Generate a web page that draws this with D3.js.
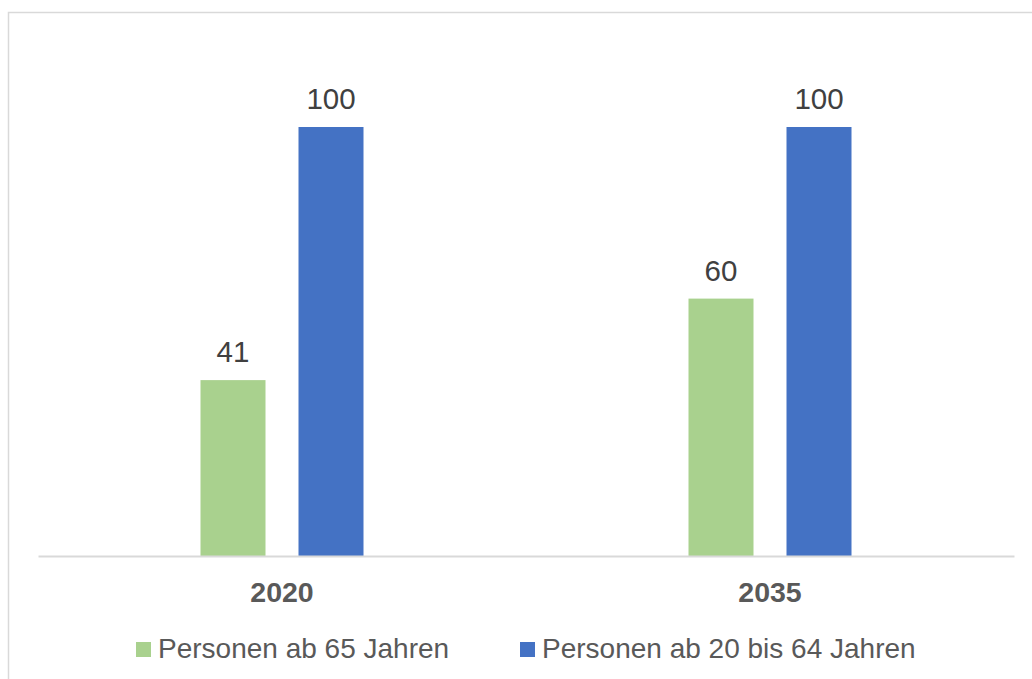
<!DOCTYPE html>
<html lang="de">
<head>
  <meta charset="UTF-8">
  <title>Personen ab 65 Jahren je 100 Personen ab 20 bis 64 Jahren</title>
  <style>
body {
  margin: 0;
  background: #fff;
  font-family: 'Liberation Sans', Arial, sans-serif;
}
svg text {
  font-family: 'Liberation Sans', Arial, sans-serif;
}
  </style>
</head>
<body>
<svg id="chart" width="1032" height="679"></svg>
<script src="https://cdn.jsdelivr.net/npm/d3@7"></script>
<script>
/* global d3 */

// data
var years = ["2020", "2035"];
var series = ["Personen ab 65 Jahren", "Personen ab 20 bis 64 Jahren"];
var ab65 = [41, 60];
var ab20bis64 = [100, 100];
var colors = ["#A9D18E", "#4472C4"];

var svg = d3.select("#chart");

// outer frame (right and bottom run off the picture)
svg.append("rect")
  .attr("x", 8.5).attr("y", 12.5)
  .attr("width", 1040).attr("height", 700)
  .attr("fill", "none")
  .attr("stroke", "#d9d9d9")
  .attr("stroke-width", 1.5);

var x0 = d3.scaleBand().domain(years).range([38, 1014]);
var x1 = d3.scaleBand().domain(series).range([-81.5, 81.5]).paddingInner(33 / 98);
var y = d3.scaleLinear().domain([0, 100]).range([556, 127]);
var color = d3.scaleOrdinal().domain(series).range(colors);

var rows = years.map(function (yr, i) {
  return { year: yr, values: [
    { key: series[0], value: ab65[i] },
    { key: series[1], value: ab20bis64[i] }
  ]};
});

var groups = svg.append("g").selectAll("g")
  .data(rows)
  .enter().append("g")
  .attr("transform", function (d) {
    return "translate(" + (x0(d.year) + x0.bandwidth() / 2) + ",0)";
  });

groups.selectAll("rect")
  .data(function (d) { return d.values; })
  .enter().append("rect")
  .attr("x", function (d) { return x1(d.key); })
  .attr("width", x1.bandwidth())
  .attr("y", function (d) { return y(d.value); })
  .attr("height", function (d) { return y(0) - y(d.value); })
  .attr("fill", function (d) { return color(d.key); });

groups.selectAll("text.val")
  .data(function (d) { return d.values; })
  .enter().append("text")
  .attr("class", "val")
  .attr("x", function (d) { return x1(d.key) + x1.bandwidth() / 2; })
  .attr("y", function (d) { return y(d.value) - 18; })
  .attr("text-anchor", "middle")
  .attr("font-size", 29.5)
  .attr("fill", "#404040")
  .text(function (d) { return d.value; });

// x axis
var xAxis = svg.append("g")
  .attr("transform", "translate(0," + y(0) + ")")
  .call(d3.axisBottom(x0).tickSize(0).tickPadding(0));
xAxis.select(".domain")
  .attr("stroke", "#d9d9d9")
  .attr("stroke-width", 2);
xAxis.selectAll(".tick text")
  .attr("dy", 0)
  .attr("y", 46)
  .attr("font-size", 28.5)
  .attr("font-weight", "bold")
  .attr("fill", "#595959");

// legend
var legendX = [136, 520];
var legend = svg.append("g").selectAll("g")
  .data(series)
  .enter().append("g")
  .attr("transform", function (d, i) { return "translate(" + legendX[i] + ",642)"; });
legend.append("rect")
  .attr("width", 15).attr("height", 15)
  .attr("fill", function (d) { return color(d); });
legend.append("text")
  .attr("x", 22)
  .attr("y", 15.5)
  .attr("font-size", 28)
  .attr("fill", "#595959")
  .text(function (d) { return d; });
</script>
</body>
</html>
